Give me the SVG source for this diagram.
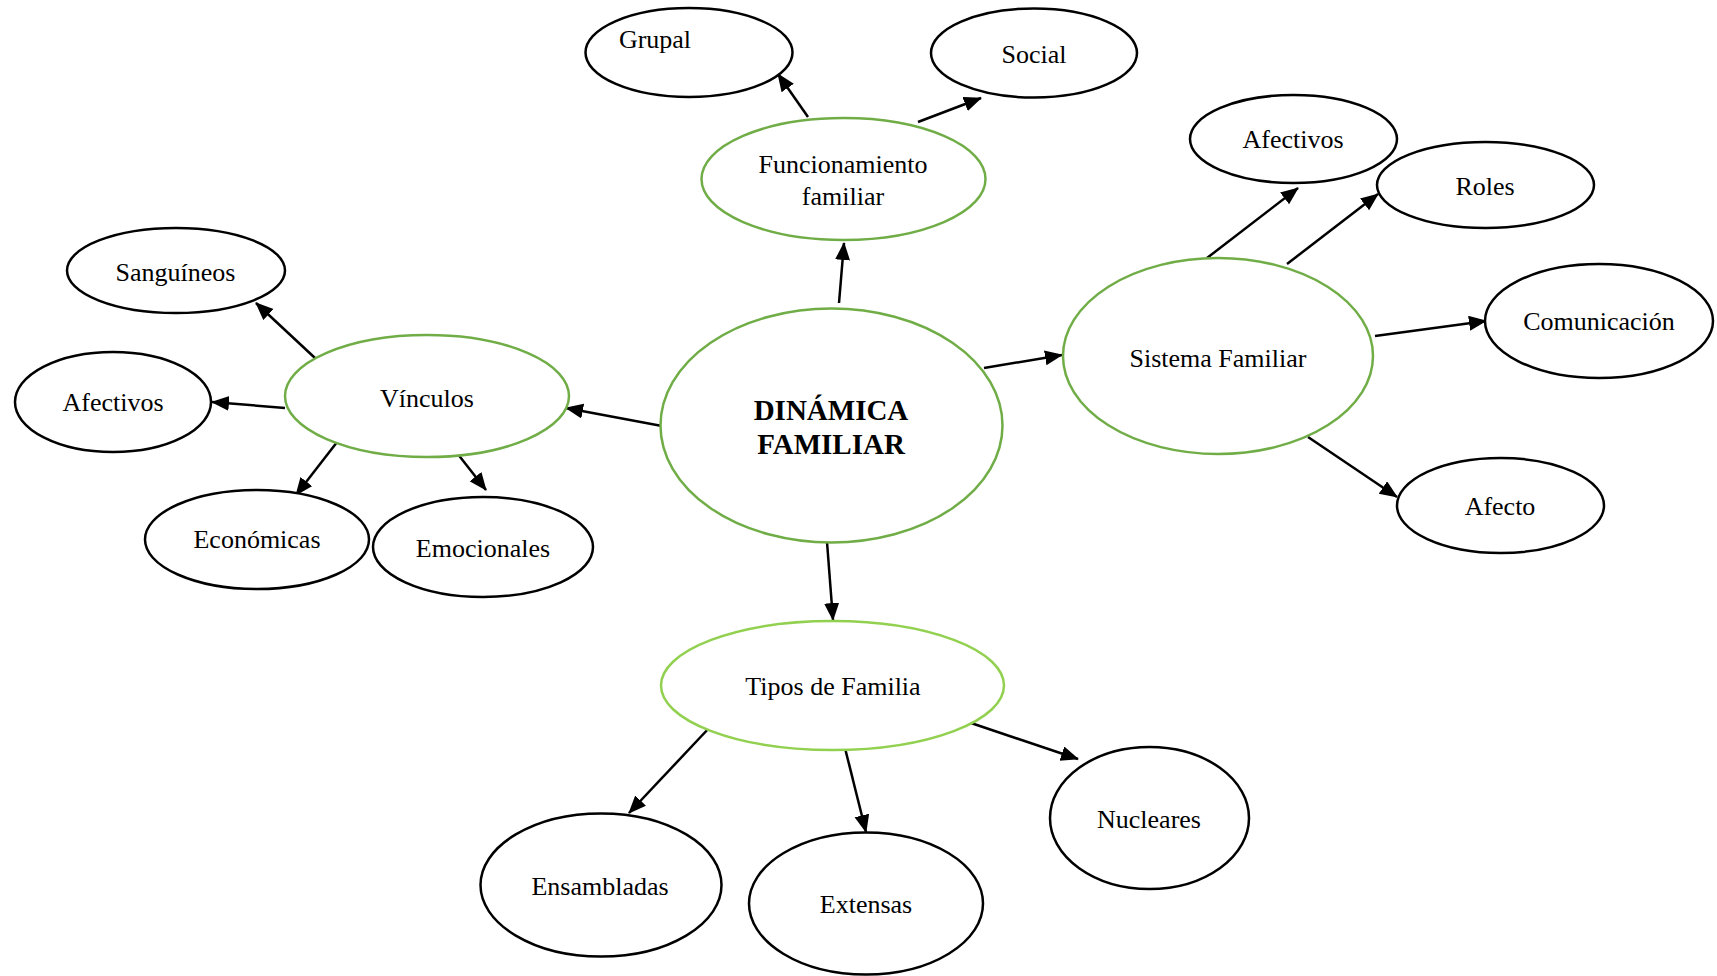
<svg xmlns="http://www.w3.org/2000/svg" width="1717" height="976" viewBox="0 0 1717 976">
  <style>
    .node { fill: #ffffff; stroke: #000000; stroke-width: 2.5; }
    .main { fill: #ffffff; stroke: #70ad47; stroke-width: 2.5; }
    .light { fill: #ffffff; stroke: #92d050; stroke-width: 2.5; }
    .lbl { font-family: "Liberation Serif", "Times New Roman", serif; font-size: 26px; fill: #000000; text-anchor: middle; }
    .title { font-family: "Liberation Serif", "Times New Roman", serif; font-size: 29px; font-weight: bold; fill: #000000; text-anchor: middle; }
    .edge { stroke: #000000; stroke-width: 2.5; fill: none; marker-end: url(#arrow); }
  </style>
  <defs>
    <marker id="arrow" markerUnits="userSpaceOnUse" markerWidth="19" markerHeight="16" refX="17" refY="7.5" orient="auto">
      <path d="M0,0 L18,7.5 L0,15 z" fill="#000000"/>
    </marker>
  </defs>
  <rect width="1717" height="976" fill="#ffffff"/>

  <!-- connectors -->
  <g id="connectors">
    <line class="edge" x1="839" y1="303" x2="844" y2="243"/>
    <line class="edge" x1="662" y1="426" x2="566" y2="408"/>
    <line class="edge" x1="984" y1="368" x2="1062" y2="355"/>
    <line class="edge" x1="827" y1="542" x2="833" y2="620"/>
    <line class="edge" x1="808" y1="117" x2="778" y2="74"/>
    <line class="edge" x1="918" y1="122" x2="981" y2="98"/>
    <line class="edge" x1="315" y1="358" x2="256" y2="303"/>
    <line class="edge" x1="285" y1="408" x2="212" y2="402"/>
    <line class="edge" x1="341" y1="437" x2="296" y2="495"/>
    <line class="edge" x1="457" y1="453" x2="486" y2="490"/>
    <line class="edge" x1="1207" y1="258" x2="1298" y2="188"/>
    <line class="edge" x1="1287" y1="264" x2="1378" y2="194"/>
    <line class="edge" x1="1375" y1="336" x2="1486" y2="321"/>
    <line class="edge" x1="1308" y1="437" x2="1397" y2="497"/>
    <line class="edge" x1="710" y1="727" x2="629" y2="813"/>
    <line class="edge" x1="844" y1="744" x2="866" y2="832"/>
    <line class="edge" x1="971" y1="723" x2="1078" y2="759"/>
  </g>

  <!-- central node -->
  <g id="dinamica-familiar">
    <ellipse class="main" cx="831.5" cy="425.5" rx="171" ry="117"/>
    <text class="title" x="831" y="420">DINÁMICA</text>
    <text class="title" x="831" y="454">FAMILIAR</text>
  </g>

  <!-- Funcionamiento familiar branch -->
  <g id="funcionamiento-familiar">
    <ellipse class="main" cx="843.5" cy="179" rx="142" ry="61"/>
    <text class="lbl" x="843" y="173">Funcionamiento</text>
    <text class="lbl" x="843" y="205">familiar</text>
  </g>
  <g id="grupal">
    <ellipse class="node" cx="689" cy="52.5" rx="103.5" ry="44.5"/>
    <text class="lbl" x="655" y="48">Grupal</text>
  </g>
  <g id="social">
    <ellipse class="node" cx="1034" cy="53" rx="103" ry="44.5"/>
    <text class="lbl" x="1034" y="63">Social</text>
  </g>

  <!-- Vínculos branch -->
  <g id="vinculos">
    <ellipse class="main" cx="427" cy="396" rx="142" ry="61"/>
    <text class="lbl" x="427" y="407">Vínculos</text>
  </g>
  <g id="sanguineos">
    <ellipse class="node" cx="176" cy="270.5" rx="109" ry="42.5"/>
    <text class="lbl" x="175.5" y="281">Sanguíneos</text>
  </g>
  <g id="afectivos-vinculos">
    <ellipse class="node" cx="113" cy="402" rx="98" ry="50"/>
    <text class="lbl" x="113" y="411">Afectivos</text>
  </g>
  <g id="economicas">
    <ellipse class="node" cx="257" cy="539.5" rx="112" ry="49.5"/>
    <text class="lbl" x="257" y="548">Económicas</text>
  </g>
  <g id="emocionales">
    <ellipse class="node" cx="483" cy="547" rx="110" ry="50"/>
    <text class="lbl" x="483" y="557">Emocionales</text>
  </g>

  <!-- Sistema Familiar branch -->
  <g id="sistema-familiar">
    <ellipse class="main" cx="1218" cy="356" rx="155" ry="98"/>
    <text class="lbl" x="1218" y="367">Sistema Familiar</text>
  </g>
  <g id="afectivos-sistema">
    <ellipse class="node" cx="1293.5" cy="139" rx="103.5" ry="44"/>
    <text class="lbl" x="1293" y="148">Afectivos</text>
  </g>
  <g id="roles">
    <ellipse class="node" cx="1485.5" cy="185" rx="108.5" ry="43"/>
    <text class="lbl" x="1485" y="195">Roles</text>
  </g>
  <g id="comunicacion">
    <ellipse class="node" cx="1599" cy="321" rx="114" ry="57"/>
    <text class="lbl" x="1599" y="330">Comunicación</text>
  </g>
  <g id="afecto">
    <ellipse class="node" cx="1500.5" cy="505.5" rx="103.5" ry="47.5"/>
    <text class="lbl" x="1500" y="515">Afecto</text>
  </g>

  <!-- Tipos de Familia branch -->
  <g id="tipos-de-familia">
    <ellipse class="light" cx="832.5" cy="685.5" rx="171.5" ry="64.5"/>
    <text class="lbl" x="833" y="695">Tipos de Familia</text>
  </g>
  <g id="ensambladas">
    <ellipse class="node" cx="601" cy="885" rx="120.5" ry="71.5"/>
    <text class="lbl" x="600" y="895">Ensambladas</text>
  </g>
  <g id="extensas">
    <ellipse class="node" cx="866" cy="903.5" rx="117" ry="71"/>
    <text class="lbl" x="866" y="913">Extensas</text>
  </g>
  <g id="nucleares">
    <ellipse class="node" cx="1149.5" cy="818" rx="99.5" ry="71"/>
    <text class="lbl" x="1149" y="828">Nucleares</text>
  </g>
</svg>
